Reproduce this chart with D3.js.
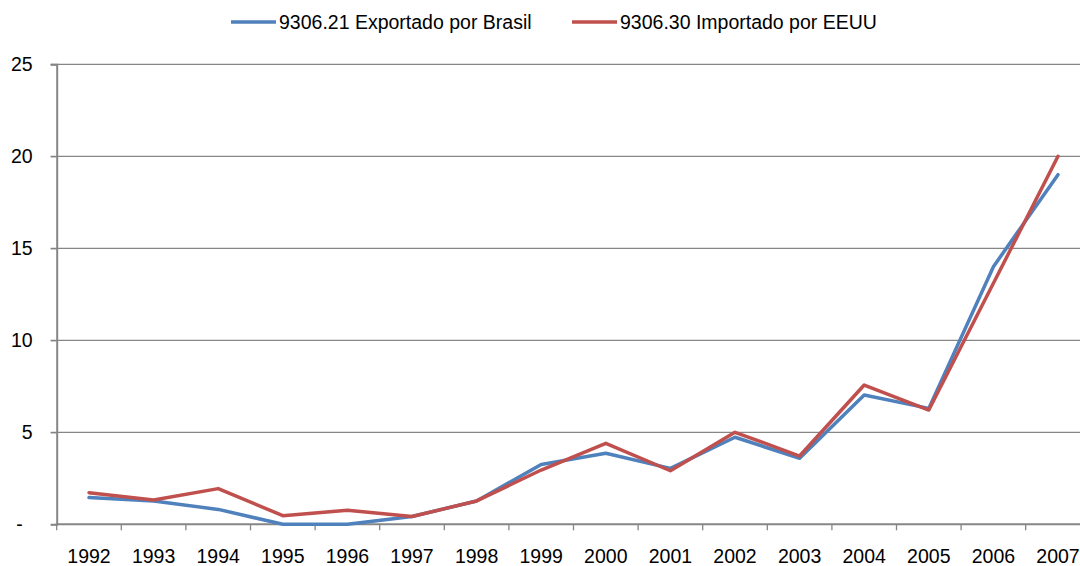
<!DOCTYPE html>
<html>
<head>
<meta charset="utf-8">
<script src="https://cdn.jsdelivr.net/npm/d3@7"></script>
<style>
  body { margin: 0; background: #fff; }
  svg { display: block; font-family: "Liberation Sans", Arial, sans-serif; }
</style>
</head>
<body>
<svg id="chart" width="1080" height="566"></svg>
<script>
"use strict";
// data
var years = ["1992","1993","1994","1995","1996","1997","1998","1999",
             "2000","2001","2002","2003","2004","2005","2006","2007"];
var exportBrasil = [1.45, 1.27, 0.81, 0.0, 0.0, 0.42, 1.27, 3.25,
                    3.86, 3.04, 4.73, 3.59, 7.03, 6.30, 14.0, 19.0];
var importEEUU   = [1.72, 1.32, 1.94, 0.47, 0.76, 0.42, 1.27, 2.95,
                    4.40, 2.91, 5.00, 3.71, 7.57, 6.21, 13.1, 20.0];
var yTicks = [0, 5, 10, 15, 20, 25];
var seriesNames = ["9306.21 Exportado por Brasil", "9306.30 Importado por EEUU"];
var seriesColors = ["#4F81BD", "#C0504D"];

var svg = d3.select("#chart");
var plotLeft = 56.7, plotRight = 1090.3, plotTop = 64.3, plotBottom = 524.3;
var gray = "#868686";
var fontSize = "19.5px";

var x = d3.scaleBand().domain(years).range([plotLeft, plotRight]);
var y = d3.scaleLinear().domain([0, 25]).range([plotBottom, plotTop]);

// horizontal gridlines
svg.append("g").selectAll("line")
    .data(yTicks.filter(function (d) { return d > 0; }))
    .enter().append("line")
    .attr("x1", plotLeft - 6).attr("x2", plotRight)
    .attr("y1", function (d) { return y(d); })
    .attr("y2", function (d) { return y(d); })
    .style("stroke", gray).style("stroke-width", 1.3);

// y axis
var yAxis = svg.append("g")
    .attr("transform", "translate(" + plotLeft + ",0)")
    .call(d3.axisLeft(y).tickValues(yTicks).tickSize(6).tickPadding(18)
        .tickFormat(function (d) { return d === 0 ? "-" : d; }));
yAxis.select(".domain").style("stroke", gray).style("stroke-width", 2);
yAxis.selectAll(".tick line").style("stroke", gray).style("stroke-width", 1.3);
yAxis.selectAll(".tick text")
    .style("font-size", fontSize).style("fill", "#000")
    .attr("dx", function (d) { return d === 0 ? -10 : 0; });

// x axis: labels in band centres, tick marks on band edges
var xAxis = svg.append("g")
    .attr("transform", "translate(0," + plotBottom + ")")
    .call(d3.axisBottom(x).tickSize(0).tickPadding(25));
xAxis.select(".domain").remove();
xAxis.selectAll(".tick text").style("font-size", fontSize).style("fill", "#000");

svg.append("line")
    .attr("x1", plotLeft - 1).attr("x2", plotRight)
    .attr("y1", plotBottom).attr("y2", plotBottom)
    .style("stroke", gray).style("stroke-width", 2);

svg.append("g").selectAll("line")
    .data(years)
    .enter().append("line")
    .attr("x1", function (d) { return x(d); })
    .attr("x2", function (d) { return x(d); })
    .attr("y1", plotBottom).attr("y2", plotBottom + 6)
    .style("stroke", gray).style("stroke-width", 1.3);

// lines
var line = d3.line()
    .x(function (d, i) { return x(years[i]) + x.bandwidth() / 2; })
    .y(function (d) { return y(d); });

[exportBrasil, importEEUU].forEach(function (vals, k) {
    svg.append("path")
        .datum(vals)
        .attr("d", line)
        .style("fill", "none")
        .style("stroke", seriesColors[k])
        .style("stroke-width", 3.5)
        .style("stroke-linejoin", "round")
        .style("stroke-linecap", "round");
});

// legend
var legendX = [231, 572];
var legend = svg.append("g");
seriesNames.forEach(function (name, k) {
    legend.append("line")
        .attr("x1", legendX[k]).attr("x2", legendX[k] + 45)
        .attr("y1", 22).attr("y2", 22)
        .style("stroke", seriesColors[k]).style("stroke-width", 3.5);
    legend.append("text")
        .attr("x", legendX[k] + 48).attr("y", 22)
        .attr("dy", "0.35em")
        .style("font-size", fontSize)
        .text(name);
});
</script>
</body>
</html>
